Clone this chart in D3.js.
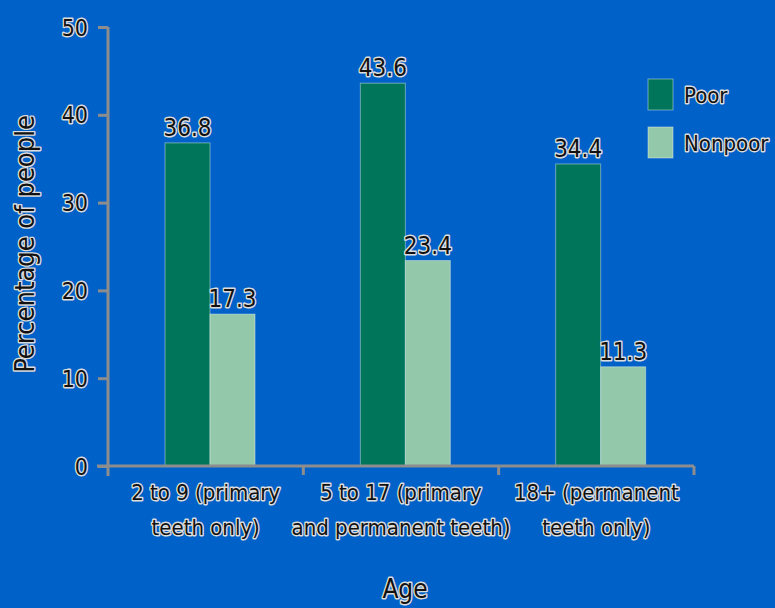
<!DOCTYPE html>
<html lang="en">

<head>
    <meta charset="UTF-8">
    <title>Untreated dental caries by age and poverty</title>
    <script src="https://cdn.jsdelivr.net/npm/d3@7"></script>
    <style>
        html, body { margin: 0; padding: 0; background: #0061c9; }
        text {
            font-family: "Liberation Sans Narrow", "DejaVu Sans Condensed", "Roboto Condensed", sans-serif;
            fill: #111;
            stroke: #dcdcdc;
            stroke-width: 2.8px;
            paint-order: stroke;
            stroke-linejoin: round;
        }
    </style>
</head>

<body>
    <div id="container"></div>

    <script>
        const width = 775;
        const height = 608;
        const margin = { top: 27, left: 108, right: 81, bottom: 142 };

        // data
        const categories = ['2 to 9 (primary|teeth only)', '5 to 17 (primary|and permanent teeth)', '18+ (permanent|teeth only)'];
        const series = ['Poor', 'Nonpoor'];
        const poor = [36.8, 43.6, 34.4];
        const nonpoor = [17.3, 23.4, 11.3];
        const yTicks = [0, 10, 20, 30, 40, 50];
        const colors = { Poor: '#00755a', Nonpoor: '#93c9aa' };

        const rows = categories.map((c, i) => ({ cat: c, Poor: poor[i], Nonpoor: nonpoor[i] }));

        const x0 = d3.scaleBand().domain(categories).range([margin.left, width - margin.right]);
        const x1 = d3.scaleBand().domain(series).range([57, 147]);
        const y = d3.scaleLinear().domain([0, 50]).range([height - margin.bottom, margin.top]);

        const svg = d3.select('#container').append('svg')
            .attr('width', width)
            .attr('height', height);

        svg.append('rect').attr('width', width).attr('height', height).attr('fill', '#0061c9');

        // bars
        const groups = svg.append('g').selectAll('g').data(rows).join('g')
            .attr('transform', d => `translate(${x0(d.cat)},0)`);

        groups.selectAll('rect').data(d => series.map(s => ({ s, v: d[s] }))).join('rect')
            .attr('x', d => x1(d.s))
            .attr('y', d => y(d.v))
            .attr('width', x1.bandwidth())
            .attr('height', d => y(0) - y(d.v))
            .attr('fill', d => colors[d.s])
            .attr('stroke', 'rgba(235,245,240,0.45)')
            .attr('stroke-width', 1);

        groups.selectAll('text').data(d => series.map(s => ({ s, v: d[s] }))).join('text')
            .attr('x', d => x1(d.s) + x1.bandwidth() / 2)
            .attr('y', d => y(d.v) - 7)
            .attr('text-anchor', 'middle')
            .attr('font-size', 24)
            .text(d => d.v.toFixed(1));

        // axes
        const axisColor = '#8d8d8d';
        const gy = svg.append('g').attr('transform', `translate(${margin.left},0)`)
            .call(d3.axisLeft(y).tickValues(yTicks).tickSize(10).tickSizeOuter(0).tickPadding(10));
        gy.select('.domain').remove();
        gy.selectAll('.tick line').attr('stroke', axisColor).attr('stroke-width', 3);
        gy.selectAll('.tick text').attr('font-size', 23).attr('dy', '0.35em');

        const axisG = svg.append('g');
        // x axis line and boundary ticks
        axisG.append('line')
            .attr('x1', margin.left - 11).attr('x2', x0.range()[1])
            .attr('y1', y(0)).attr('y2', y(0));
        axisG.append('line')
            .attr('x1', margin.left).attr('x2', margin.left)
            .attr('y1', y(50)).attr('y2', y(0) + 10);
        axisG.selectAll('line.bt').data(categories).join('line')
            .attr('class', 'bt')
            .attr('x1', d => x0(d) + x0.bandwidth()).attr('x2', d => x0(d) + x0.bandwidth())
            .attr('y1', y(0)).attr('y2', y(0) + 9);
        axisG.selectAll('line')
            .attr('stroke', axisColor)
            .attr('stroke-width', 3);

        // category labels
        const cl = svg.append('g').selectAll('text').data(categories).join('text')
            .attr('x', d => x0(d) + x0.bandwidth() / 2)
            .attr('y', y(0) + 34)
            .attr('text-anchor', 'middle')
            .attr('font-size', 22);
        cl.selectAll('tspan').data(d => d.split('|')).join('tspan')
            .attr('x', function () { return d3.select(this.parentNode).attr('x'); })
            .attr('dy', (d, i) => i === 0 ? 0 : 35)
            .text(d => d);

        // axis titles
        svg.append('text')
            .attr('x', 405).attr('y', 598)
            .attr('text-anchor', 'middle')
            .attr('font-size', 26)
            .text('Age');

        svg.append('text')
            .attr('transform', 'translate(34,244) rotate(-90)')
            .attr('text-anchor', 'middle')
            .attr('font-size', 27)
            .text('Percentage of people');

        // legend
        const legend = svg.append('g').attr('transform', 'translate(648,79)');
        const li = legend.selectAll('g').data(series).join('g')
            .attr('transform', (d, i) => `translate(0,${i * 48})`);
        li.append('rect')
            .attr('width', 25).attr('height', 31)
            .attr('fill', d => colors[d])
            .attr('stroke', 'rgba(235,245,240,0.45)');
        li.append('text')
            .attr('x', 36).attr('y', 16)
            .attr('dy', '0.35em')
            .attr('font-size', 22)
            .text(d => d);
    </script>
</body>

</html>
